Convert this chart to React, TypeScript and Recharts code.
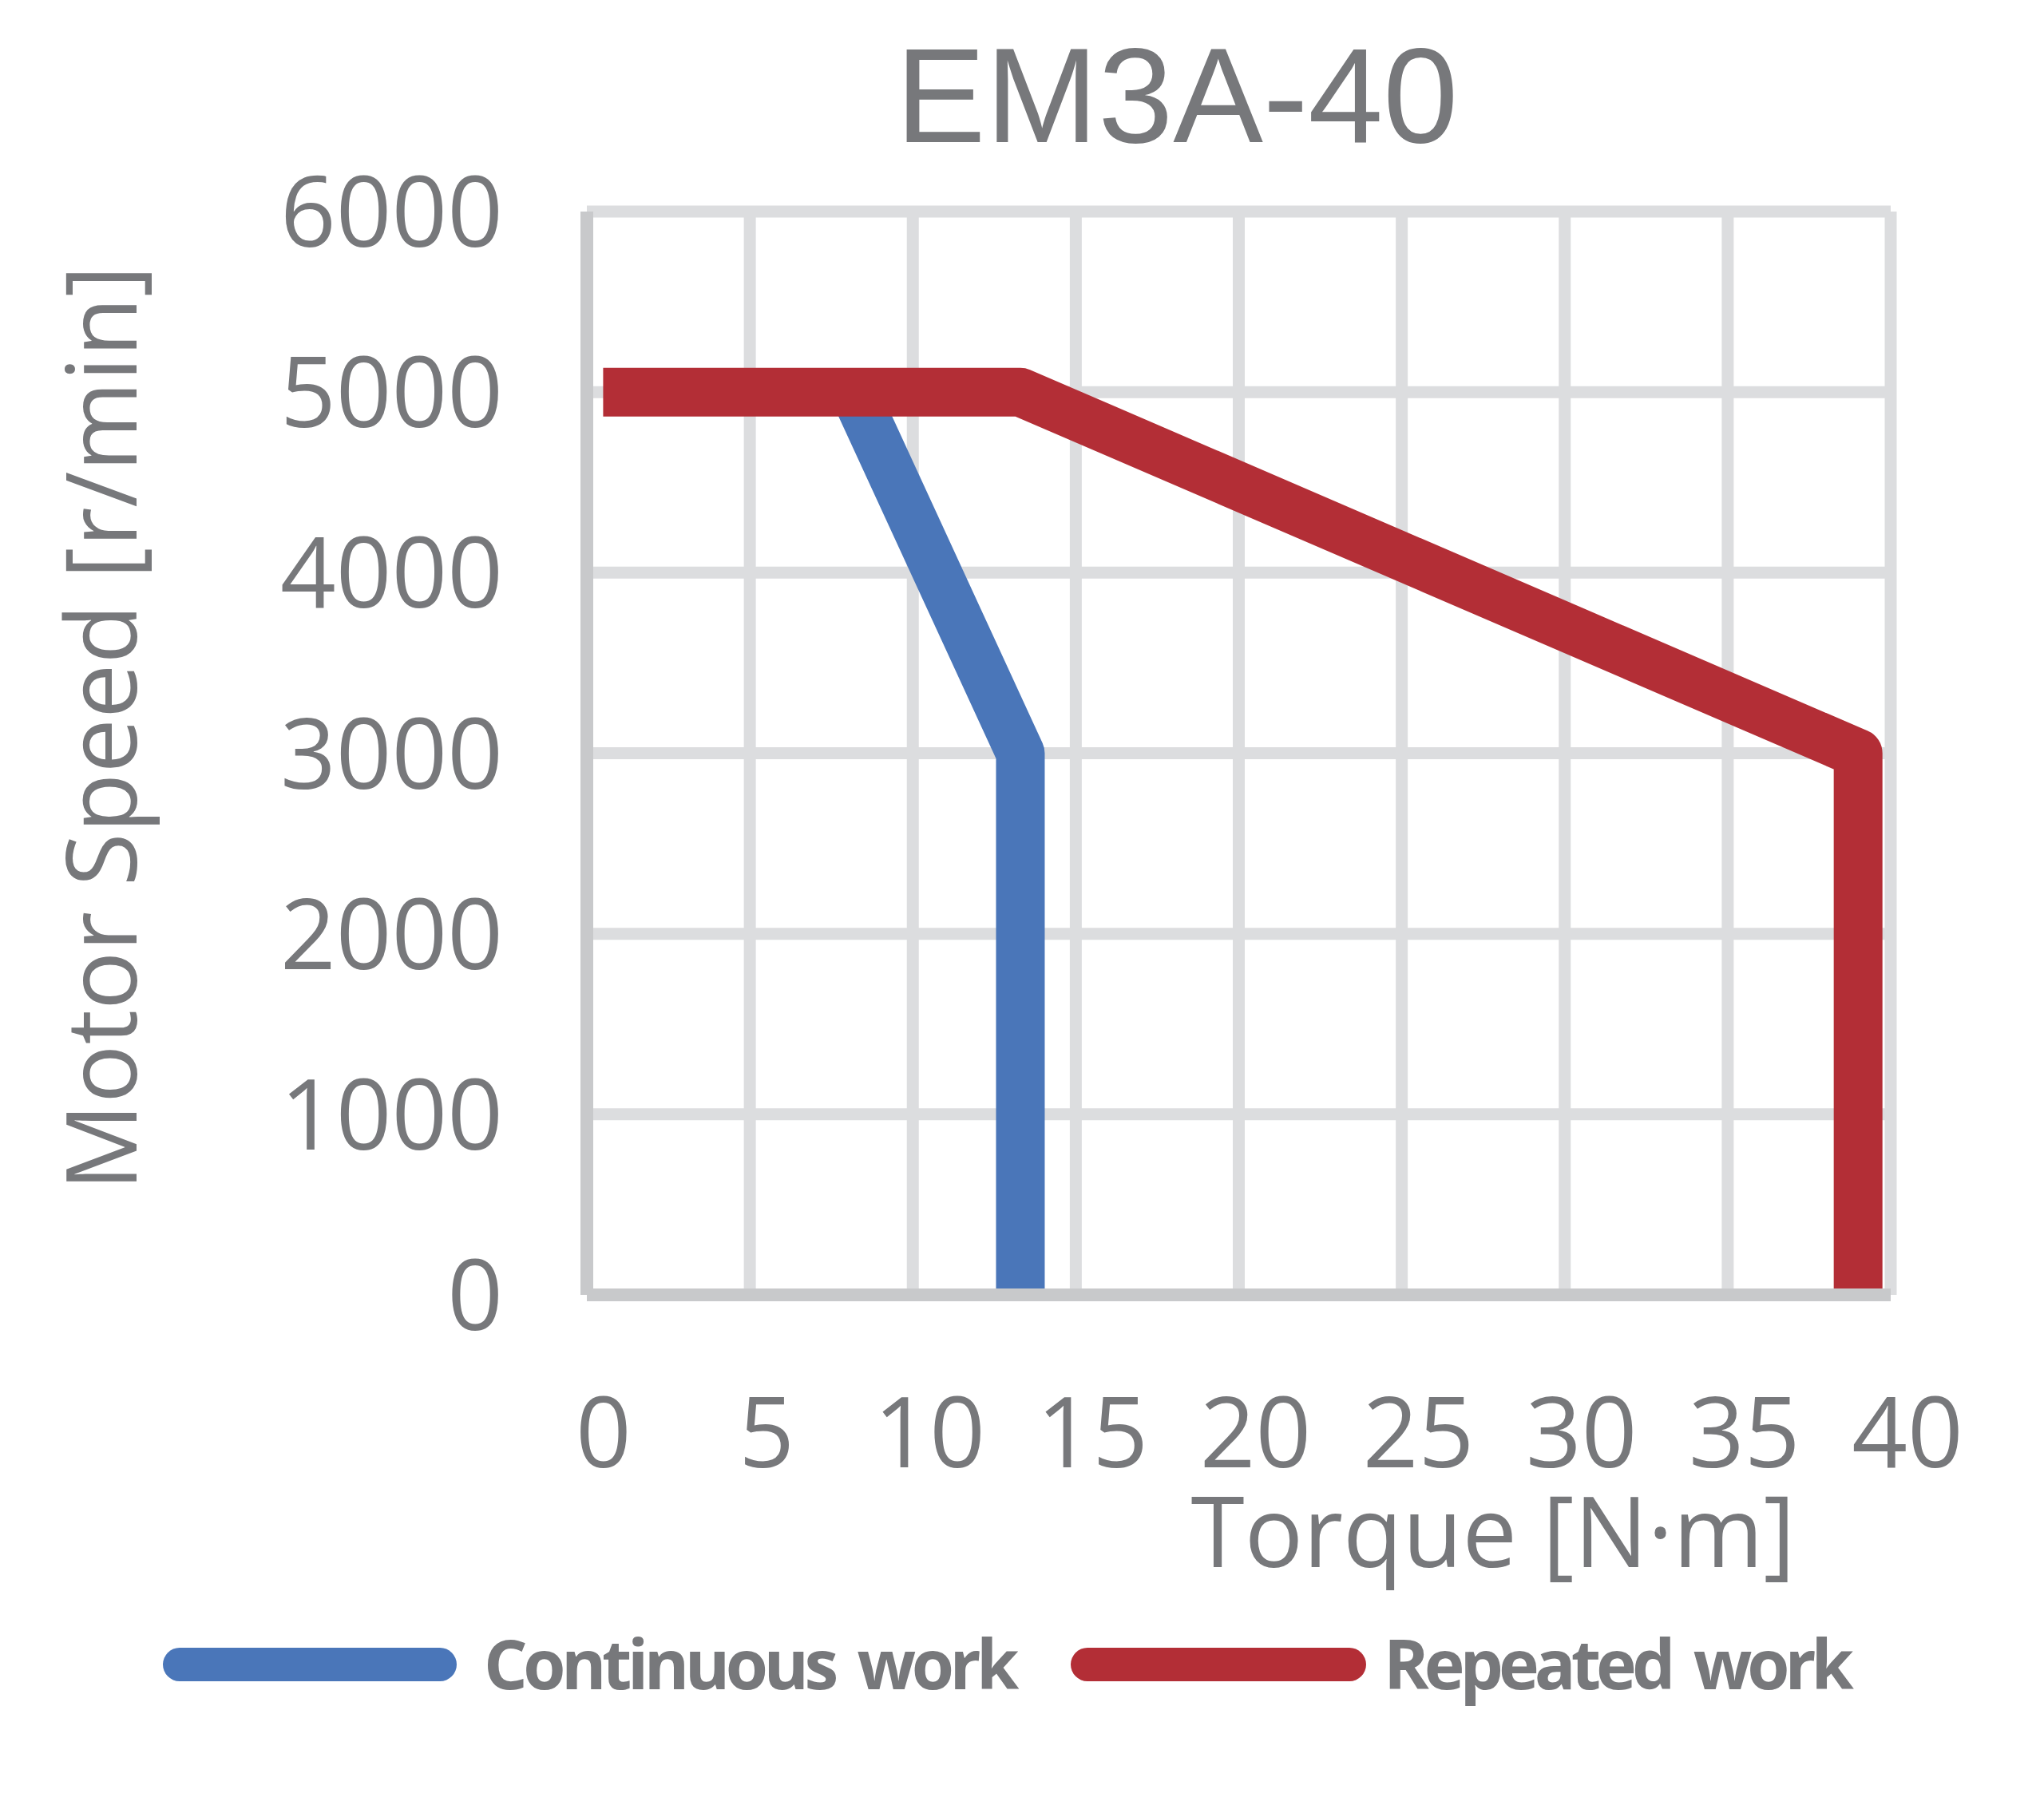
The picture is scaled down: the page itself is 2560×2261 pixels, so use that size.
import React from 'react';
import { LineChart, Line, XAxis, YAxis, CartesianGrid, Legend } from 'recharts';

const continuousTorque = [8.2, 13.3, 13.3];
const continuousSpeed = [5000, 3000, 0];
const repeatedTorque = [0.5, 13.3, 39, 39];
const repeatedSpeed = [5000, 5000, 3000, 0];
const xTicks = [0, 5, 10, 15, 20, 25, 30, 35, 40];
const yTicks = [0, 1000, 2000, 3000, 4000, 5000, 6000];
const seriesNames = ['Continuous work', 'Repeated work'];
const titleText = 'EM3A-40';
const xLabel = 'Torque [N·m]';
const yLabel = 'Motor Speed [r/min]';

const continuousData = continuousTorque.map((t, i) => ({ torque: t, speed: continuousSpeed[i] }));
const repeatedData = repeatedTorque.map((t, i) => ({ torque: t, speed: repeatedSpeed[i] }));

const GRAY = '#77787B';
const BLUE = '#4A76B9';
const RED = '#B32E36';
const GRID = '#DCDDDF';
const AXIS = '#C8C9CB';
const W = 2544;
const H = 2245;

const XTick = (props: any) => {
  const { x, y, payload } = props;
  return (
    <text x={x + 21} y={y + 216} textAnchor="middle" fontFamily="'Open Sans'" fontSize={122} fill={GRAY}>
      {payload.value}
    </text>
  );
};

const YTick = (props: any) => {
  const { x, y, payload } = props;
  return (
    <text x={x - 105} y={y + 44} textAnchor="end" fontFamily="'Open Sans'" fontSize={122} fill={GRAY}>
      {payload.value}
    </text>
  );
};

const XLabel = (props: any) => {
  const vb = props.viewBox || { x: 727, width: 1633, y: 1614 };
  return (
    <text x={vb.x + 1135} y={1955} textAnchor="middle" fontFamily="'Open Sans'" fontSize={122} fill={GRAY}>
      {xLabel}
    </text>
  );
};

const YLabel = () => (
  <text
    x={163}
    y={904}
    transform="rotate(-90, 163, 904)"
    textAnchor="middle"
    fontFamily="'Open Sans'"
    fontSize={122}
    fill={GRAY}
  >
    {yLabel}
  </text>
);

const LegendContent = () => (
  <svg width={W} height={120} style={{ display: 'block' }}>
    <line x1={217} x2={543} y1={60} y2={60} stroke={BLUE} strokeWidth={42} strokeLinecap="round" />
    <text x={598} y={91} fontFamily="'Open Sans'" fontWeight={700} fontSize={86} letterSpacing={-5.5} wordSpacing={12} fill={GRAY}>
      {seriesNames[0]}
    </text>
    <line x1={1354} x2={1682} y1={60} y2={60} stroke={RED} strokeWidth={42} strokeLinecap="round" />
    <text x={1725} y={91} fontFamily="'Open Sans'" fontWeight={700} fontSize={86} letterSpacing={-6} wordSpacing={12} fill={GRAY}>
      {seriesNames[1]}
    </text>
  </svg>
);

export default function App() {
  return (
    <div style={{ position: 'relative', width: W, height: H, background: '#fff' }}>
      <LineChart width={W} height={H} margin={{ top: 257, right: 184, bottom: 0, left: 0 }}>
        <CartesianGrid stroke={GRID} strokeWidth={15} horizontal vertical />
        <XAxis
          type="number"
          dataKey="torque"
          domain={[0, 40]}
          ticks={xTicks}
          interval={0}
          allowDataOverflow
          height={631}
          tickSize={0}
          tickMargin={0}
          tickLine={false}
          axisLine={{ stroke: AXIS, strokeWidth: 16 }}
          tick={<XTick />}
          label={<XLabel />}
        />
        <YAxis
          type="number"
          dataKey="speed"
          domain={[0, 6000]}
          ticks={yTicks}
          interval={0}
          allowDataOverflow
          width={727}
          tickSize={0}
          tickMargin={0}
          tickLine={false}
          axisLine={{ stroke: AXIS, strokeWidth: 16 }}
          tick={<YTick />}
          label={<YLabel />}
        />
        <Line
          data={continuousData}
          dataKey="speed"
          name={seriesNames[0]}
          type="linear"
          stroke={BLUE}
          strokeWidth={61}
          strokeLinejoin="round"
          strokeLinecap="butt"
          dot={false}
          activeDot={false}
          isAnimationActive={false}
        />
        <Line
          data={repeatedData}
          dataKey="speed"
          name={seriesNames[1]}
          type="linear"
          stroke={RED}
          strokeWidth={61}
          strokeLinejoin="round"
          strokeLinecap="butt"
          dot={false}
          activeDot={false}
          isAnimationActive={false}
        />
        <Legend
          layout="horizontal"
          verticalAlign="middle"
          align="center"
          wrapperStyle={{ position: 'absolute', left: 0, top: 2017, width: W, height: 120 }}
          content={<LegendContent />}
        />
      </LineChart>
      <svg width={W} height={220} style={{ position: 'absolute', left: 0, top: 0, pointerEvents: 'none' }}>
        <text x={1466} y={170} textAnchor="middle" fontFamily="'Liberation Sans', Arial, sans-serif" fontSize={169} fill={GRAY}>
          {titleText}
        </text>
      </svg>
    </div>
  );
}
